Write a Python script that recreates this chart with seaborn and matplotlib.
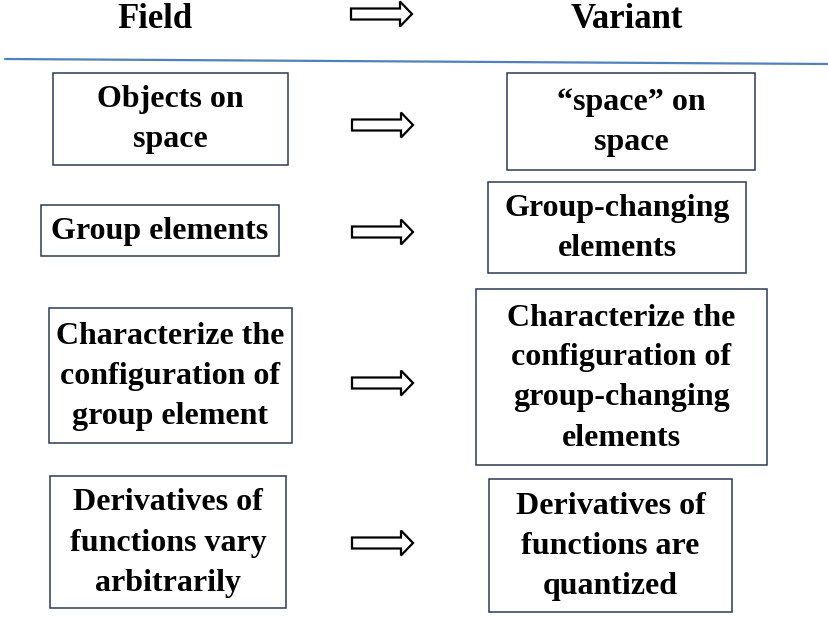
import matplotlib
matplotlib.use("Agg")
import matplotlib.pyplot as plt
from matplotlib.patches import Rectangle, FancyArrow
import seaborn as sns

sns.set_theme(style="white")
plt.rcParams['font.family'] = ['Liberation Serif', 'DejaVu Serif']
plt.rcParams['text.color'] = 'black'

# headings
header_left = "Field"
header_right = "Variant"

# box texts, left column -> right column
field_labels = [
    "Objects on\nspace",
    "Group elements",
    "Characterize the\nconfiguration of\ngroup element",
    "Derivatives of\nfunctions vary\narbitrarily",
]
variant_labels = [
    "\u201cspace\u201d on\nspace",
    "Group-changing\nelements",
    "Characterize the\nconfiguration of\ngroup-changing\nelements",
    "Derivatives of\nfunctions are\nquantized",
]

# layout in pixels (x0, y0, x1, y1)
field_boxes = [(53, 73, 288, 165), (41, 205, 279, 256), (49, 308, 292, 443), (50, 476, 286, 608)]
variant_boxes = [(507, 73, 755, 170), (488, 182, 746, 273), (476, 289, 767, 465), (489, 479, 732, 612)]
arrow_rows = [125, 232, 383, 543]

W, H = 829, 617
fig = plt.figure(figsize=(W / 100, H / 100), dpi=100)
ax = fig.add_axes([0, 0, 1, 1])
ax.set_xlim(0, W)
ax.set_ylim(H, 0)
ax.axis("off")

edge = "#2b3a55"
txt = dict(ha="center", va="center", fontsize=23, fontweight="bold",
           color="black", linespacing=1.5)


def draw_arrow(x, y):
    ax.add_patch(FancyArrow(x, y, 61, 0, width=11, head_width=25, head_length=12,
                            length_includes_head=True, facecolor="white",
                            edgecolor="black", linewidth=1.6))


for labels, boxes in [(field_labels, field_boxes), (variant_labels, variant_boxes)]:
    for lab, (x0, y0, x1, y1) in zip(labels, boxes):
        ax.add_patch(Rectangle((x0, y0), x1 - x0, y1 - y0, fill=False,
                               edgecolor=edge, linewidth=1.1))
        ax.text((x0 + x1) / 2, (y0 + y1) / 2 + 1, lab, **txt)

for y in arrow_rows:
    draw_arrow(352, y)

# header row
ax.text(155, 28, header_left, ha="center", va="baseline", fontsize=25,
        fontweight="bold", color="black")
ax.text(627, 28, header_right, ha="center", va="baseline", fontsize=25,
        fontweight="bold", color="black")
draw_arrow(351, 14)
ax.plot([5, W], [59, 64], color="#4f81bd", linewidth=1.6)

fig.savefig("out.png", dpi=100, facecolor="white")
